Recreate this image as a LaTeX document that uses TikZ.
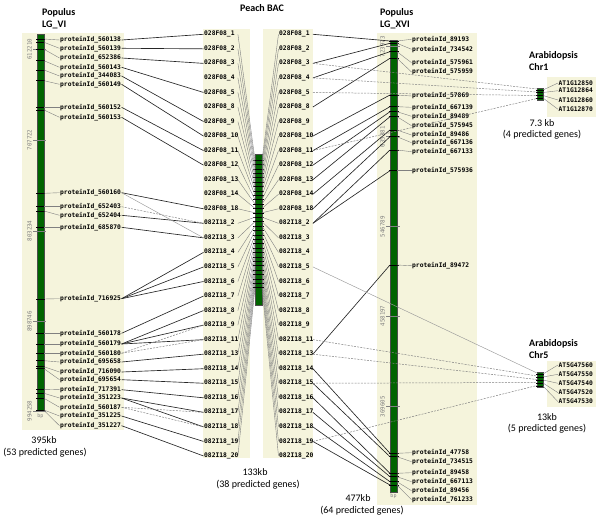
\documentclass[tikz,border=0pt]{standalone}
\usepackage{fontspec}
\setmainfont{Carlito}
\newfontfamily\lblfont{DejaVu Sans Mono}
\definecolor{beige}{RGB}{245,244,220}
\definecolor{bargreen}{RGB}{0,100,0}
\tikzset{
  panel/.style={fill=beige},
  chrbar/.style={fill=bargreen, draw=black!70, line width=0.4pt, inner sep=0pt, minimum width=7pt, anchor=north west},
  lbl/.style={font=\lblfont\bfseries\fontsize{6.3}{7}\selectfont, inner xsep=0.5pt, inner ysep=0.5pt, anchor=west},
  clbl/.style={lbl, text width=33pt, align=left},
  poslbl/.style={font=\lblfont\fontsize{5.8}{6}\selectfont, text=gray, rotate=90, inner sep=0pt},
  ttl/.style={font=\bfseries\fontsize{10}{12}\selectfont, align=left, anchor=north west, inner sep=0pt},
  captxt/.style={font=\fontsize{10}{12}\selectfont, inner sep=0pt},
  bpl/.style={font=\lblfont\fontsize{5}{6}\selectfont, text=gray, inner sep=0pt},
  lead/.style={gray, line width=0.4pt},
  tickm/.style={black, line width=0.55pt},
  postick/.style={gray, line width=0.5pt},
  syn/.style={black!85, line width=0.65pt},
  synd/.style={gray, line width=0.5pt, dash pattern=on 2pt off 1.2pt},
  syng/.style={gray!80, line width=0.45pt},
}
\begin{document}
\begin{tikzpicture}[x=1pt,y=-1pt]
\useasboundingbox (0,0) rectangle (600,518);
% ---------- panels ----------
\fill[panel] (22,33) rectangle (124,430);
\fill[panel] (203,29) rectangle (250,458);
\fill[panel] (263,29) rectangle (313,458);
\fill[panel] (377,33) rectangle (477,505);
\fill[panel] (547,77) rectangle (596,117);
\fill[panel] (547,361) rectangle (596,407);
% ---------- titles ----------
\node[ttl] (tL) at (42,8) {Populus\\LG\_VI};
\node[ttl, anchor=center] (tC) at (262,8.5) {Peach BAC};
\node[ttl] (tR) at (380,8) {Populus\\LG\_XVI};
\node[ttl] (tA1) at (529,51) {Arabidopsis\\Chr1};
\node[ttl] (tA5) at (529,339) {Arabidopsis\\Chr5};
% ---------- captions ----------
\node[captxt] (cL1) at (44,440) {395kb};
\node[captxt] (cL2) at (45,453) {(53 predicted genes)};
\node[captxt] (cC1) at (255,472) {133kb};
\node[captxt] (cC2) at (258,485) {(38 predicted genes)};
\node[captxt] (cR1) at (358,498) {477kb};
\node[captxt] (cR2) at (362,511) {(64 predicted genes)};
\node[captxt] (cA11) at (542,123) {7.3 kb};
\node[captxt] (cA12) at (542,135) {(4 predicted genes)};
\node[captxt] (cA51) at (547,417) {13kb};
\node[captxt] (cA52) at (547,429) {(5 predicted genes)};
% ---------- bars ----------
\node[chrbar, minimum height=377pt] (barL) at (37,34) {};
\node[chrbar, minimum height=151pt] (barC) at (255,154) {};
\node[chrbar, minimum width=7pt, minimum height=452pt] (barR) at (390,40) {};
\node[chrbar, minimum width=6pt, minimum height=12pt] (chrA) at (537,88) {};
\node[chrbar, minimum width=6pt, minimum height=15pt] (chrB) at (537,372) {};
\node[bpl] (bpL) at (40.5,416) {bp};
\node[bpl] (bpR) at (393.5,496) {bp};
% ---------- position ticks ----------
\foreach \v/\y in {612210/49.3, 707722/140, 803234/231, 898746/321.5, 994258/411}{
  \draw[postick] (33,\y) -- (46,\y);
  \node[poslbl] (pl\v) at (29.5,\y) {\v};
}
\foreach \v/\y in {723973/46.7, 635381/136.7, 546789/226.7, 458197/316, 369605/406.7}{
  \draw[postick] (386,\y) -- (400,\y);
  \node[poslbl] (pr\v) at (382.5,\y) {\v};
}
% ---------- left panel labels ----------
\foreach \id/\ly/\ty [count=\i] in {560138/40/39, 560139/48.3/42.3, 652386/58/49.3, 560143/67.3/60.7, 344083/76/70, 560149/84.3/80.7, 560152/107.3/107.3, 560153/117.3/110, 560160/192.7/193.3, 652403/206.7/206.7, 652404/215.3/211, 685870/227.3/227.3, 716925/298.7/299, 560178/333.3/333.3, 560179/344/344, 560180/353.3/353.3, 695658/362/360.7, 716090/372/366.7, 695654/379.7/368.7, 717391/389.7/389.3, 351223/398/393.3, 560187/407.3/398.3, 351225/416/410, 351227/425.7/410.5}{
  \draw[tickm] (36,\ty) -- (45,\ty);
  \node[lbl] (L\i) at (59.5,\ly) {proteinId\_\id};
  \coordinate (LB\i) at (44,\ty);
  \draw[lead] (LB\i) -- (L\i.west);
}
% ---------- right panel labels ----------
\foreach \id/\ly/\ty [count=\i] in {89193/39.3/41, 734542/49.3/43.3, 575961/62.7/51.7, 575959/72/58.3, 57869/96/95, 667139/107.3/106.7, 89489/116.3/111.7, 575945/125.7/116.7, 89486/135/130, 667136/142.7/136.7, 667133/151.7/150, 575936/170.7/170.7, 89472/265.7/265, 47758/452.7/453.3, 734515/461.7/456.7, 89458/472.7/473.3, 667113/481.7/476.7, 89456/490.7/481.7, 761233/499.7/485}{
  \draw[tickm] (388.5,\ty) -- (398.5,\ty);
  \node[lbl] (R\i) at (411.5,\ly) {proteinId\_\id};
  \coordinate (RB\i) at (390,\ty);
  \coordinate (RBe\i) at (397,\ty);
  \draw[lead] (RBe\i) -- (R\i.west);
}
% ---------- centre labels ----------
\foreach \t [count=\i from 0] in {028F08\_1, 028F08\_2, 028F08\_3, 028F08\_4, 028F08\_5, 028F08\_8, 028F08\_9, 028F08\_10, 028F08\_11, 028F08\_12, 028F08\_13, 028F08\_14, 028F08\_18, 082I18\_2, 082I18\_3, 082I18\_4, 082I18\_5, 082I18\_6, 082I18\_7, 082I18\_8, 082I18\_9, 082I18\_11, 082I18\_13, 082I18\_14, 082I18\_15, 082I18\_16, 082I18\_17, 082I18\_18, 082I18\_19, 082I18\_20}{
  \pgfmathsetmacro\yc{34.3+14.54*\i}
  \pgfmathsetmacro\yt{160+4.4*\i}
  \node[clbl] (CL\i) at (203.5,\yc) {\t};
  \node[clbl] (CR\i) at (278.5,\yc) {\t};
  \coordinate (CBl\i) at (255,\yt);
  \coordinate (CBr\i) at (262,\yt);
  \draw[tickm] (253,\yt) -- (264,\yt);
  \draw[lead] (CL\i.east) -- (CBl\i);
  \draw[lead] (CBr\i) -- (CR\i.west);
}
% ---------- Arabidopsis labels ----------
\foreach \g/\ly/\ty [count=\i] in {AT1G12850/83/90, AT1G12864/90.7/92.5, AT1G12860/100/95.5, AT1G12870/109.3/98}{
  \draw[tickm] (536,\ty) -- (544,\ty);
  \node[lbl] (Aa\i) at (558,\ly) {\g};
  \coordinate (Aat\i) at (543,\ty);
  \draw[lead] (Aat\i) -- (Aa\i.west);
}
\foreach \g/\ly/\ty [count=\i] in {AT5G47560/365/374, AT5G47550/374.3/377, AT5G47540/383.3/380, AT5G47520/392.7/383, AT5G47530/401.7/386}{
  \draw[tickm] (536,\ty) -- (544,\ty);
  \node[lbl] (Ab\i) at (558,\ly) {\g};
  \coordinate (Abt\i) at (543,\ty);
  \draw[lead] (Abt\i) -- (Ab\i.west);
}
\coordinate (Ain1) at (537,89);
\coordinate (Ain2) at (537,92);
\coordinate (Ain3) at (537,95.5);
\coordinate (Ain4) at (537,98.5);
\coordinate (Bin1) at (537,373);
\coordinate (Bin2) at (537,376);
\coordinate (Bin3) at (537,379.5);
\coordinate (Bin4) at (537,382.5);
\coordinate (Bin5) at (537,385.5);
% ---------- connectors: LG_VI -> peach ----------
\foreach \a/\b in {1/0,2/1,3/2,4/4,5/6,6/7,7/8,8/9,9/12,11/13,12/14,13/15,13/16,13/17,14/18,15/19,15/20,15/21,17/22,18/23,19/24,20/25,21/26,21/27,23/28,24/29}
  \draw[syn] (L\a.east) -- (CL\b.west);
\foreach \a/\b in {10/13,16/20,16/21,22/26,22/27}
  \draw[synd] (L\a.east) -- (CL\b.west);
\draw[syng] (L9.east) -- (CL14.west);
% ---------- connectors: peach -> LG_XVI ----------
\foreach \a/\b in {0/1,2/2,3/3,5/4,7/5,8/6,9/7,10/8,11/9,12/10,13/11,13/12,22/13,23/14,24/15,25/16,26/17,27/18,28/19}
  \draw[syn] (CR\a.east) -- (RB\b);
% ---------- connectors to Arabidopsis ----------
\draw[synd] (CR2.east) -- (Ain1);
\draw[synd] (CR3.east) -- (Ain2);
\draw[synd] (CR4.east) -- (Ain3);
\draw[synd] (CR8.east) -- (Ain4);
\draw[syng] (CR16.east) -- (Bin1);
\draw[synd] (CR21.east) -- (Bin2);
\draw[synd] (CR22.east) -- (Bin3);
\draw[synd] (CR24.east) -- (Bin4);
\draw[synd] (CR28.east) -- (Bin5);
\end{tikzpicture}
\end{document}
